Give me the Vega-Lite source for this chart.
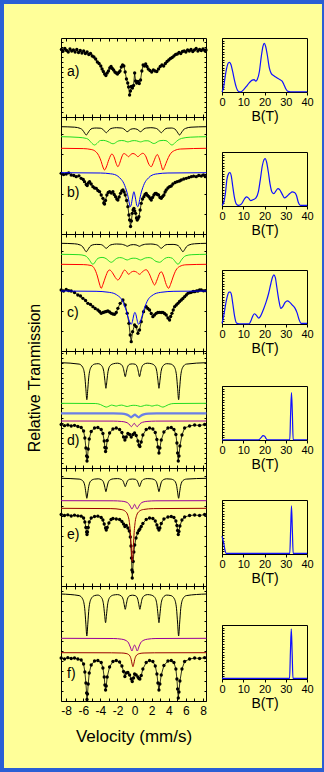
{
"$schema": "https://vega.github.io/schema/vega-lite/v6.json",
"background": "#ffff99",
"padding": 0,
"config": {"font": "Liberation Sans", "view": {"stroke": null}, "axis": {"tickColor": "black", "labelColor": "black", "titleColor": "black", "domain": false, "grid": false, "titleFontWeight": "normal", "labelOverlap": false, "labelFlush": false}},
"datasets": {
"a_pts": [{"v":-8.55,"t":67.5},{"v":-8.35,"t":66},{"v":-8.15,"t":68.5},{"v":-7.95,"t":66.5},{"v":-7.75,"t":65},{"v":-7.55,"t":68},{"v":-7.35,"t":66},{"v":-7.15,"t":67},{"v":-6.95,"t":65},{"v":-6.75,"t":67.5},{"v":-6.55,"t":64.5},{"v":-6.35,"t":66.5},{"v":-6.15,"t":64},{"v":-5.95,"t":66},{"v":-5.75,"t":63.5},{"v":-5.55,"t":65},{"v":-5.35,"t":62.5},{"v":-5.15,"t":63.5},{"v":-4.95,"t":61},{"v":-4.75,"t":60},{"v":-4.55,"t":58},{"v":-4.35,"t":55},{"v":-4.15,"t":53.5},{"v":-3.95,"t":51},{"v":-3.8,"t":48},{"v":-3.65,"t":45.5},{"v":-3.5,"t":43},{"v":-3.35,"t":41.5},{"v":-3.2,"t":44},{"v":-3.05,"t":46},{"v":-2.9,"t":49},{"v":-2.75,"t":50.5},{"v":-2.6,"t":48.5},{"v":-2.45,"t":47},{"v":-2.3,"t":45},{"v":-2.15,"t":44},{"v":-2,"t":43},{"v":-1.85,"t":44.5},{"v":-1.7,"t":46},{"v":-1.55,"t":50},{"v":-1.4,"t":52},{"v":-1.25,"t":51},{"v":-1.1,"t":45},{"v":-0.95,"t":38},{"v":-0.8,"t":34},{"v":-0.7,"t":30},{"v":-0.58,"t":22},{"v":-0.48,"t":26},{"v":-0.38,"t":30.5},{"v":-0.25,"t":29},{"v":-0.12,"t":31.5},{"v":0.01,"t":44},{"v":0.12,"t":36},{"v":0.25,"t":34},{"v":0.4,"t":35.5},{"v":0.55,"t":33.5},{"v":0.7,"t":37},{"v":0.85,"t":46},{"v":1,"t":52},{"v":1.15,"t":51},{"v":1.3,"t":53},{"v":1.45,"t":50.5},{"v":1.6,"t":48},{"v":1.8,"t":46.5},{"v":2,"t":45},{"v":2.2,"t":47},{"v":2.4,"t":46},{"v":2.6,"t":45.5},{"v":2.8,"t":48},{"v":3,"t":50.5},{"v":3.2,"t":52},{"v":3.4,"t":51},{"v":3.6,"t":53.5},{"v":3.8,"t":55.5},{"v":4,"t":57},{"v":4.2,"t":58.5},{"v":4.4,"t":59.5},{"v":4.6,"t":61},{"v":4.8,"t":62.5},{"v":5,"t":63},{"v":5.2,"t":64.5},{"v":5.4,"t":63.5},{"v":5.6,"t":65.5},{"v":5.8,"t":66},{"v":6,"t":65},{"v":6.2,"t":67},{"v":6.4,"t":66},{"v":6.6,"t":67.5},{"v":6.8,"t":65.5},{"v":7,"t":67},{"v":7.2,"t":68.5},{"v":7.4,"t":66},{"v":7.6,"t":67.5},{"v":7.8,"t":66.5},{"v":8,"t":68},{"v":8.2,"t":66.5},{"v":8.35,"t":67}],
"b_pts": [{"v":-8.58,"t":60.7},{"v":-8.3,"t":59.5},{"v":-7.99,"t":60},{"v":-7.7,"t":61.2},{"v":-7.41,"t":59},{"v":-7.1,"t":58.5},{"v":-6.82,"t":57.3},{"v":-6.5,"t":58.2},{"v":-6.24,"t":55.7},{"v":-6,"t":54.5},{"v":-5.85,"t":52.3},{"v":-5.65,"t":49.5},{"v":-5.54,"t":48.5},{"v":-5.4,"t":51},{"v":-5.26,"t":52.3},{"v":-5.07,"t":50},{"v":-4.87,"t":47.3},{"v":-4.68,"t":46},{"v":-4.48,"t":45.7},{"v":-4.29,"t":43.5},{"v":-4.09,"t":42.3},{"v":-3.9,"t":39},{"v":-3.7,"t":35.7},{"v":-3.6,"t":31},{"v":-3.51,"t":30},{"v":-3.4,"t":33.5},{"v":-3.24,"t":39},{"v":-3.08,"t":41.5},{"v":-2.92,"t":42.3},{"v":-2.72,"t":41},{"v":-2.53,"t":42.3},{"v":-2.38,"t":39.5},{"v":-2.22,"t":37.3},{"v":-2.08,"t":35},{"v":-1.95,"t":34},{"v":-1.8,"t":37},{"v":-1.64,"t":40.7},{"v":-1.5,"t":43},{"v":-1.36,"t":44},{"v":-1.22,"t":42},{"v":-1.09,"t":39},{"v":-0.93,"t":33.5},{"v":-0.78,"t":27.3},{"v":-0.66,"t":19},{"v":-0.58,"t":14},{"v":-0.47,"t":7.5},{"v":-0.37,"t":13},{"v":-0.27,"t":20.7},{"v":-0.17,"t":24},{"v":-0.08,"t":25.7},{"v":0.02,"t":23},{"v":0.12,"t":20.7},{"v":0.22,"t":16},{"v":0.31,"t":14},{"v":0.41,"t":15.5},{"v":0.51,"t":17.3},{"v":0.65,"t":24},{"v":0.78,"t":30.7},{"v":0.93,"t":35},{"v":1.09,"t":37.3},{"v":1.22,"t":39.5},{"v":1.36,"t":40.7},{"v":1.52,"t":38.5},{"v":1.68,"t":37.3},{"v":1.82,"t":35.5},{"v":1.95,"t":34},{"v":2.1,"t":36.5},{"v":2.26,"t":39},{"v":2.4,"t":40.5},{"v":2.53,"t":40.7},{"v":2.67,"t":39.5},{"v":2.81,"t":39},{"v":2.97,"t":36.5},{"v":3.12,"t":35.7},{"v":3.28,"t":37.5},{"v":3.43,"t":39},{"v":3.57,"t":42},{"v":3.7,"t":44},{"v":3.9,"t":46},{"v":4.09,"t":47.3},{"v":4.29,"t":48},{"v":4.48,"t":50},{"v":4.75,"t":51.5},{"v":4.99,"t":52.3},{"v":5.25,"t":53},{"v":5.46,"t":54},{"v":5.75,"t":55},{"v":6.04,"t":55.7},{"v":6.35,"t":56.5},{"v":6.63,"t":57.3},{"v":6.9,"t":57.8},{"v":7.21,"t":57.3},{"v":7.5,"t":58.5},{"v":7.8,"t":58},{"v":8.05,"t":59},{"v":8.27,"t":57.3}],
"b_k": [{"v":-8.6,"t":107.3},{"v":-7,"t":106.8},{"v":-6.35,"t":105.6},{"v":-6.05,"t":103.7},{"v":-5.85,"t":101.1},{"v":-5.65,"t":99},{"v":-5.45,"t":101.1},{"v":-5.25,"t":103.7},{"v":-4.95,"t":105.6},{"v":-4.48,"t":106},{"v":-4.01,"t":105.8},{"v":-3.71,"t":104.7},{"v":-3.51,"t":102.8},{"v":-3.31,"t":101.3},{"v":-3.11,"t":102.8},{"v":-2.91,"t":104.7},{"v":-2.61,"t":105.8},{"v":-2.1,"t":106.3},{"v":-1.56,"t":106},{"v":-1.26,"t":105.1},{"v":-1.06,"t":103.6},{"v":-0.86,"t":102.3},{"v":-0.66,"t":103.4},{"v":-0.46,"t":104.7},{"v":-0.08,"t":105.3},{"v":0.3,"t":104.7},{"v":0.5,"t":103.4},{"v":0.7,"t":102.3},{"v":0.9,"t":103.6},{"v":1.1,"t":105.1},{"v":1.4,"t":106},{"v":1.9,"t":106.3},{"v":2.42,"t":105.8},{"v":2.72,"t":104.7},{"v":2.92,"t":102.8},{"v":3.12,"t":101.3},{"v":3.32,"t":102.8},{"v":3.52,"t":104.7},{"v":3.82,"t":105.8},{"v":4.29,"t":106},{"v":4.56,"t":105.6},{"v":4.86,"t":103.7},{"v":5.06,"t":101.1},{"v":5.26,"t":99},{"v":5.46,"t":101.1},{"v":5.66,"t":103.7},{"v":5.96,"t":105.6},{"v":6.6,"t":106.8},{"v":8.4,"t":107.3}],
"b_g": [{"v":-8.6,"t":97.3},{"v":-6.5,"t":96.6},{"v":-5.6,"t":95.5},{"v":-5.3,"t":93.8},{"v":-5.08,"t":91.6},{"v":-4.88,"t":89.9},{"v":-4.68,"t":89},{"v":-4.48,"t":89.9},{"v":-4.28,"t":91.6},{"v":-3.98,"t":93.5},{"v":-3.6,"t":93.6},{"v":-3.23,"t":92.8},{"v":-2.93,"t":91.7},{"v":-2.73,"t":90.7},{"v":-2.53,"t":90.3},{"v":-2.33,"t":90.7},{"v":-2.13,"t":91.9},{"v":-1.83,"t":93.2},{"v":-1.5,"t":93.5},{"v":-1.18,"t":93.2},{"v":-0.98,"t":92.5},{"v":-0.78,"t":92.1},{"v":-0.58,"t":92.5},{"v":-0.3,"t":93.2},{"v":-0.04,"t":93.4},{"v":0.22,"t":93.2},{"v":0.5,"t":92.5},{"v":0.7,"t":92.1},{"v":0.9,"t":92.5},{"v":1.2,"t":93.2},{"v":1.56,"t":93.2},{"v":1.86,"t":92.1},{"v":2.06,"t":91},{"v":2.26,"t":90.5},{"v":2.46,"t":91},{"v":2.66,"t":92.1},{"v":2.96,"t":93.3},{"v":3.35,"t":93.6},{"v":3.67,"t":93.4},{"v":3.97,"t":91.6},{"v":4.17,"t":89.9},{"v":4.37,"t":89},{"v":4.57,"t":89.9},{"v":4.77,"t":91.6},{"v":5.07,"t":93.8},{"v":5.5,"t":95.6},{"v":6.5,"t":96.8},{"v":8.4,"t":97.3}],
"b_r": [{"v":-8.6,"t":85.7},{"v":-6,"t":85.4},{"v":-5.07,"t":84.5},{"v":-4.6,"t":82.8},{"v":-4.2,"t":78.6},{"v":-3.9,"t":72.5},{"v":-3.7,"t":67},{"v":-3.51,"t":64},{"v":-3.3,"t":67},{"v":-3,"t":74.5},{"v":-2.65,"t":80},{"v":-2.35,"t":76},{"v":-2.15,"t":70.5},{"v":-1.95,"t":67.3},{"v":-1.75,"t":70.5},{"v":-1.5,"t":77},{"v":-1.25,"t":80.5},{"v":-0.95,"t":79},{"v":-0.7,"t":77.3},{"v":-0.45,"t":79.5},{"v":-0.19,"t":80.5},{"v":0.1,"t":79.5},{"v":0.39,"t":77.3},{"v":0.65,"t":79.2},{"v":0.97,"t":80.7},{"v":1.35,"t":77},{"v":1.6,"t":71},{"v":1.95,"t":67.3},{"v":2.2,"t":71.5},{"v":2.5,"t":77.8},{"v":2.65,"t":79.5},{"v":2.85,"t":76.5},{"v":3.1,"t":69.5},{"v":3.31,"t":64},{"v":3.52,"t":67.5},{"v":3.8,"t":73.5},{"v":4.1,"t":79},{"v":4.68,"t":83.5},{"v":5.4,"t":85},{"v":8.4,"t":85.7}],
"b_b": [{"v":-8.6,"t":61.3},{"v":-4,"t":61},{"v":-2.8,"t":60.2},{"v":-2.34,"t":59.5},{"v":-1.95,"t":57.8},{"v":-1.75,"t":56.3},{"v":-1.55,"t":54.5},{"v":-1.36,"t":52.3},{"v":-1.15,"t":48.5},{"v":-0.97,"t":44},{"v":-0.82,"t":39.5},{"v":-0.7,"t":34.5},{"v":-0.6,"t":30},{"v":-0.51,"t":27.3},{"v":-0.4,"t":29},{"v":-0.25,"t":36},{"v":-0.08,"t":42.3},{"v":0.1,"t":36},{"v":0.25,"t":29},{"v":0.39,"t":27.3},{"v":0.5,"t":30},{"v":0.6,"t":34.5},{"v":0.72,"t":39.5},{"v":0.87,"t":44},{"v":1.05,"t":48.5},{"v":1.26,"t":52.3},{"v":1.45,"t":54.5},{"v":1.65,"t":56.3},{"v":1.85,"t":57.8},{"v":2.24,"t":59.5},{"v":2.7,"t":60.2},{"v":3.9,"t":61},{"v":8.4,"t":61.3}],
"c_pts": [{"v":-8.58,"t":61},{"v":-8.3,"t":60},{"v":-7.99,"t":61.5},{"v":-7.7,"t":60.3},{"v":-7.41,"t":60},{"v":-7.02,"t":58.5},{"v":-6.63,"t":56},{"v":-6.32,"t":55},{"v":-6.04,"t":52.7},{"v":-5.73,"t":50.5},{"v":-5.46,"t":47.7},{"v":-5.15,"t":46.5},{"v":-4.87,"t":44.3},{"v":-4.6,"t":42.5},{"v":-4.29,"t":41},{"v":-4.09,"t":39.5},{"v":-3.9,"t":37.7},{"v":-3.7,"t":38.5},{"v":-3.51,"t":39},{"v":-3.31,"t":39.5},{"v":-3.12,"t":40},{"v":-2.92,"t":39},{"v":-2.73,"t":37.7},{"v":-2.53,"t":37},{"v":-2.34,"t":36.7},{"v":-2.14,"t":38.5},{"v":-1.95,"t":42.7},{"v":-1.68,"t":47.7},{"v":-1.36,"t":51},{"v":-1.09,"t":46},{"v":-0.86,"t":37.7},{"v":-0.66,"t":27.7},{"v":-0.51,"t":16},{"v":-0.39,"t":9.3},{"v":-0.23,"t":19.3},{"v":0,"t":26},{"v":0.19,"t":24.3},{"v":0.39,"t":17.7},{"v":0.58,"t":21},{"v":0.78,"t":29.3},{"v":1.05,"t":39.3},{"v":1.36,"t":44.3},{"v":1.55,"t":42.5},{"v":1.75,"t":41},{"v":1.95,"t":37.5},{"v":2.14,"t":34.3},{"v":2.33,"t":36},{"v":2.53,"t":37.7},{"v":2.72,"t":38.5},{"v":2.92,"t":38.7},{"v":3.12,"t":38.5},{"v":3.31,"t":38.7},{"v":3.5,"t":37.5},{"v":3.7,"t":36},{"v":3.9,"t":33},{"v":4.09,"t":31},{"v":4.22,"t":34.5},{"v":4.37,"t":37.7},{"v":4.52,"t":41},{"v":4.68,"t":44.3},{"v":4.88,"t":46},{"v":5.07,"t":47.7},{"v":5.26,"t":49.5},{"v":5.46,"t":51},{"v":5.65,"t":52.5},{"v":5.85,"t":54.3},{"v":6.05,"t":56},{"v":6.24,"t":57.7},{"v":6.45,"t":58.3},{"v":6.63,"t":58.7},{"v":6.85,"t":59.5},{"v":7.02,"t":59.3},{"v":7.25,"t":60.2},{"v":7.41,"t":60},{"v":7.6,"t":61},{"v":7.8,"t":61},{"v":8.05,"t":60.2},{"v":8.27,"t":60.3}],
"c_k": [{"v":-8.6,"t":107.7},{"v":-7,"t":107.2},{"v":-6.35,"t":106},{"v":-6.05,"t":104.1},{"v":-5.85,"t":101.4},{"v":-5.65,"t":99.3},{"v":-5.45,"t":101.4},{"v":-5.25,"t":104.1},{"v":-4.95,"t":106},{"v":-4.48,"t":106.6},{"v":-4.01,"t":106.5},{"v":-3.71,"t":105.6},{"v":-3.51,"t":104},{"v":-3.31,"t":102.7},{"v":-3.11,"t":104},{"v":-2.91,"t":105.6},{"v":-2.61,"t":106.5},{"v":-2.1,"t":107},{"v":-1.56,"t":106.8},{"v":-1.26,"t":106.2},{"v":-1.06,"t":105.6},{"v":-0.86,"t":104.7},{"v":-0.66,"t":105.4},{"v":-0.46,"t":106.1},{"v":-0.14,"t":106.4},{"v":0.18,"t":106.1},{"v":0.38,"t":105.4},{"v":0.58,"t":104.7},{"v":0.78,"t":105.6},{"v":0.98,"t":106.2},{"v":1.3,"t":106.8},{"v":1.9,"t":107},{"v":2.42,"t":106.5},{"v":2.72,"t":105.6},{"v":2.92,"t":104},{"v":3.12,"t":102.7},{"v":3.32,"t":104},{"v":3.52,"t":105.6},{"v":3.82,"t":106.5},{"v":4.5,"t":106.6},{"v":4.95,"t":106},{"v":5.25,"t":104.1},{"v":5.45,"t":101.4},{"v":5.65,"t":99.3},{"v":5.85,"t":101.4},{"v":6.05,"t":104.1},{"v":6.35,"t":106},{"v":7,"t":107.2},{"v":8.4,"t":107.7}],
"c_g": [{"v":-8.6,"t":96.7},{"v":-6.5,"t":96.3},{"v":-5.8,"t":95.3},{"v":-5.47,"t":93.2},{"v":-5.22,"t":90.3},{"v":-5.05,"t":88},{"v":-4.87,"t":86.7},{"v":-4.69,"t":88},{"v":-4.52,"t":90.3},{"v":-4.27,"t":92.7},{"v":-3.8,"t":93.6},{"v":-3.33,"t":92.4},{"v":-3.08,"t":90.6},{"v":-2.9,"t":89.3},{"v":-2.73,"t":88.7},{"v":-2.56,"t":89.3},{"v":-2.38,"t":90.6},{"v":-2.13,"t":92.4},{"v":-1.75,"t":93.4},{"v":-1.4,"t":93},{"v":-1.16,"t":92},{"v":-0.86,"t":91},{"v":-0.56,"t":92},{"v":-0.3,"t":92.7},{"v":-0.08,"t":92.8},{"v":0.14,"t":92.7},{"v":0.4,"t":92},{"v":0.7,"t":91},{"v":1,"t":92},{"v":1.25,"t":93},{"v":1.7,"t":93.4},{"v":2.07,"t":92.4},{"v":2.32,"t":90.6},{"v":2.5,"t":89.6},{"v":2.75,"t":89},{"v":2.92,"t":88.7},{"v":3.09,"t":89.3},{"v":3.27,"t":90.6},{"v":3.52,"t":92.4},{"v":3.95,"t":93.6},{"v":4.42,"t":92.7},{"v":4.67,"t":90.3},{"v":4.89,"t":88},{"v":5.07,"t":86.7},{"v":5.25,"t":88},{"v":5.42,"t":90.3},{"v":5.67,"t":93.2},{"v":6,"t":95.3},{"v":6.7,"t":96.3},{"v":8.4,"t":96.7}],
"c_r": [{"v":-8.6,"t":86.7},{"v":-6,"t":86.4},{"v":-5.07,"t":85.5},{"v":-4.7,"t":82.5},{"v":-4.35,"t":75},{"v":-4.1,"t":67},{"v":-3.9,"t":62.7},{"v":-3.7,"t":66.5},{"v":-3.4,"t":74},{"v":-3.1,"t":80},{"v":-2.92,"t":81},{"v":-2.6,"t":78.5},{"v":-2.25,"t":73.5},{"v":-1.95,"t":71},{"v":-1.65,"t":74},{"v":-1.35,"t":79},{"v":-1.17,"t":81},{"v":-0.95,"t":79.5},{"v":-0.7,"t":76.7},{"v":-0.4,"t":78.8},{"v":-0.08,"t":79.8},{"v":0.25,"t":78.8},{"v":0.58,"t":76.7},{"v":0.95,"t":79.5},{"v":1.36,"t":81.3},{"v":1.7,"t":77.5},{"v":2.05,"t":70.5},{"v":2.34,"t":66},{"v":2.62,"t":71},{"v":2.95,"t":78},{"v":3.12,"t":79.3},{"v":3.35,"t":76},{"v":3.7,"t":66.5},{"v":3.98,"t":62.7},{"v":4.2,"t":66.5},{"v":4.5,"t":74},{"v":4.85,"t":81},{"v":5.26,"t":84.5},{"v":6,"t":86.2},{"v":8.4,"t":86.7}],
"c_b": [{"v":-8.6,"t":60},{"v":-4.5,"t":59.7},{"v":-3.1,"t":58.8},{"v":-2.3,"t":57.2},{"v":-1.95,"t":55.3},{"v":-1.6,"t":52.7},{"v":-1.37,"t":49.3},{"v":-1.17,"t":45},{"v":-0.97,"t":40.3},{"v":-0.8,"t":35},{"v":-0.66,"t":31},{"v":-0.52,"t":27.8},{"v":-0.39,"t":26.7},{"v":-0.25,"t":29.5},{"v":-0.12,"t":35},{"v":0.04,"t":38.7},{"v":0.2,"t":35},{"v":0.33,"t":29.5},{"v":0.47,"t":26.7},{"v":0.6,"t":27.8},{"v":0.74,"t":31},{"v":0.88,"t":35},{"v":1.05,"t":40.3},{"v":1.25,"t":45},{"v":1.45,"t":49.3},{"v":1.68,"t":52.7},{"v":2.03,"t":55.3},{"v":2.38,"t":57.2},{"v":3.2,"t":58.8},{"v":4.6,"t":59.7},{"v":8.4,"t":60}],
"d_pts": [{"v":-8.58,"t":43.5},{"v":-8.19,"t":42.3},{"v":-7.8,"t":43},{"v":-7.41,"t":42},{"v":-7.02,"t":42.7},{"v":-6.63,"t":41.5},{"v":-6.24,"t":40.5},{"v":-5.96,"t":37},{"v":-5.81,"t":30},{"v":-5.69,"t":20},{"v":-5.61,"t":12},{"v":-5.56,"t":7},{"v":-5.5,"t":11},{"v":-5.42,"t":19},{"v":-5.3,"t":29},{"v":-5.07,"t":36.5},{"v":-4.68,"t":40},{"v":-4.29,"t":40.5},{"v":-3.9,"t":38.5},{"v":-3.7,"t":34.5},{"v":-3.55,"t":27},{"v":-3.47,"t":20.5},{"v":-3.39,"t":16.5},{"v":-3.31,"t":20},{"v":-3.2,"t":27.5},{"v":-2.92,"t":35},{"v":-2.53,"t":39},{"v":-2.14,"t":40},{"v":-1.75,"t":38.5},{"v":-1.48,"t":35.5},{"v":-1.29,"t":31},{"v":-1.13,"t":28},{"v":-0.97,"t":31},{"v":-0.78,"t":34.5},{"v":-0.58,"t":33.5},{"v":-0.39,"t":31},{"v":-0.19,"t":33.5},{"v":0,"t":35},{"v":0.19,"t":32.5},{"v":0.39,"t":27},{"v":0.51,"t":23},{"v":0.62,"t":21.5},{"v":0.78,"t":26},{"v":0.97,"t":33},{"v":1.36,"t":38.5},{"v":1.75,"t":40},{"v":2.14,"t":39},{"v":2.42,"t":35.5},{"v":2.61,"t":28.5},{"v":2.73,"t":21},{"v":2.85,"t":15},{"v":2.96,"t":20},{"v":3.12,"t":28},{"v":3.43,"t":36},{"v":3.9,"t":40},{"v":4.29,"t":40.5},{"v":4.6,"t":38.5},{"v":4.83,"t":33.5},{"v":4.95,"t":25},{"v":5.03,"t":15},{"v":5.11,"t":7},{"v":5.19,"t":12},{"v":5.3,"t":22},{"v":5.54,"t":33},{"v":5.85,"t":40},{"v":6.43,"t":42},{"v":7.02,"t":43},{"v":7.6,"t":42.5},{"v":8.19,"t":43.5}],
"d_k": [{"v":-8.6,"t":105.3},{"v":-6.48,"t":103.9},{"v":-6.08,"t":101},{"v":-5.83,"t":92.7},{"v":-5.7,"t":79.8},{"v":-5.58,"t":68.3},{"v":-5.46,"t":79.8},{"v":-5.33,"t":92.7},{"v":-5.08,"t":101},{"v":-4.68,"t":103.9},{"v":-4.25,"t":104.3},{"v":-3.85,"t":102.4},{"v":-3.6,"t":96.6},{"v":-3.47,"t":87.6},{"v":-3.35,"t":79.7},{"v":-3.23,"t":87.6},{"v":-3.1,"t":96.6},{"v":-2.85,"t":102.4},{"v":-2.45,"t":104.3},{"v":-1.99,"t":104.8},{"v":-1.59,"t":103.7},{"v":-1.34,"t":100.5},{"v":-1.21,"t":95.6},{"v":-1.09,"t":91.3},{"v":-0.97,"t":95.6},{"v":-0.84,"t":100.5},{"v":-0.59,"t":103.7},{"v":-0.25,"t":104.1},{"v":0.08,"t":103.7},{"v":0.33,"t":100.5},{"v":0.46,"t":95.6},{"v":0.58,"t":91.3},{"v":0.7,"t":95.6},{"v":0.83,"t":100.5},{"v":1.08,"t":103.7},{"v":1.48,"t":104.8},{"v":1.95,"t":104.3},{"v":2.35,"t":102.4},{"v":2.6,"t":96.6},{"v":2.73,"t":87.6},{"v":2.85,"t":79.7},{"v":2.97,"t":87.6},{"v":3.1,"t":96.6},{"v":3.35,"t":102.4},{"v":3.75,"t":104.3},{"v":4.25,"t":103.9},{"v":4.65,"t":101},{"v":4.9,"t":92.7},{"v":5.03,"t":79.8},{"v":5.15,"t":68.3},{"v":5.27,"t":79.8},{"v":5.4,"t":92.7},{"v":5.65,"t":101},{"v":6.05,"t":103.9},{"v":8.4,"t":105.3}],
"d_g": [{"v":-8.6,"t":64.7},{"v":-4.6,"t":64.5},{"v":-4,"t":63.5},{"v":-3.6,"t":61.8},{"v":-3.31,"t":60.9},{"v":-3,"t":61.8},{"v":-2.7,"t":62.9},{"v":-2.4,"t":62.4},{"v":-2.14,"t":61.9},{"v":-1.85,"t":62.6},{"v":-1.5,"t":62.9},{"v":-1.15,"t":62.1},{"v":-0.86,"t":61.5},{"v":-0.5,"t":62.3},{"v":-0.08,"t":62.7},{"v":0.35,"t":62.3},{"v":0.7,"t":61.5},{"v":1,"t":62.1},{"v":1.35,"t":62.9},{"v":1.75,"t":62.6},{"v":2.03,"t":61.9},{"v":2.3,"t":62.4},{"v":2.65,"t":62.9},{"v":3,"t":61.8},{"v":3.31,"t":60.9},{"v":3.6,"t":61.8},{"v":4,"t":63.5},{"v":4.6,"t":64.5},{"v":8.4,"t":64.7}],
"d_b": [{"v":-8.6,"t":54.7},{"v":-2.5,"t":54.6},{"v":-1.5,"t":54.3},{"v":-1,"t":53.6},{"v":-0.7,"t":52.5},{"v":-0.52,"t":51.4},{"v":-0.39,"t":50.7},{"v":-0.2,"t":52},{"v":0.04,"t":53.3},{"v":0.25,"t":52},{"v":0.47,"t":50.7},{"v":0.6,"t":51.4},{"v":0.78,"t":52.5},{"v":1.08,"t":53.6},{"v":1.6,"t":54.3},{"v":2.6,"t":54.6},{"v":8.4,"t":54.7}],
"d_m": [{"v":-8.6,"t":47},{"v":-2.5,"t":46.9},{"v":-1.5,"t":46.5},{"v":-1,"t":45.7},{"v":-0.7,"t":44.3},{"v":-0.52,"t":42.6},{"v":-0.39,"t":41.3},{"v":-0.2,"t":43},{"v":-0.04,"t":44.7},{"v":0.12,"t":43},{"v":0.31,"t":41.3},{"v":0.45,"t":42.6},{"v":0.63,"t":44.3},{"v":0.93,"t":45.7},{"v":1.45,"t":46.5},{"v":2.45,"t":46.9},{"v":8.4,"t":47}],
"e_pts": [{"v":-8.58,"t":71.5},{"v":-8.19,"t":70.5},{"v":-7.8,"t":71.2},{"v":-7.41,"t":70},{"v":-7.02,"t":70.8},{"v":-6.63,"t":70.2},{"v":-6.24,"t":69.8},{"v":-5.96,"t":68},{"v":-5.81,"t":64},{"v":-5.69,"t":58.5},{"v":-5.61,"t":54},{"v":-5.56,"t":51.5},{"v":-5.5,"t":54},{"v":-5.42,"t":58.5},{"v":-5.3,"t":64},{"v":-5.07,"t":68},{"v":-4.68,"t":69.5},{"v":-4.29,"t":69.8},{"v":-3.9,"t":68.5},{"v":-3.7,"t":66},{"v":-3.55,"t":62},{"v":-3.39,"t":58},{"v":-3.31,"t":56},{"v":-3.2,"t":58.5},{"v":-3,"t":63},{"v":-2.75,"t":66.5},{"v":-2.53,"t":67.5},{"v":-2.14,"t":67},{"v":-1.75,"t":66.5},{"v":-1.48,"t":64.5},{"v":-1.29,"t":62},{"v":-1.13,"t":59.5},{"v":-0.97,"t":60.5},{"v":-0.78,"t":58},{"v":-0.62,"t":55},{"v":-0.5,"t":49},{"v":-0.42,"t":40},{"v":-0.36,"t":28},{"v":-0.31,"t":16},{"v":-0.27,"t":8},{"v":-0.22,"t":14},{"v":-0.16,"t":24.5},{"v":-0.08,"t":34},{"v":0.02,"t":41},{"v":0.17,"t":48},{"v":0.35,"t":53},{"v":0.5,"t":55.5},{"v":0.62,"t":57},{"v":0.78,"t":59.5},{"v":0.97,"t":62.5},{"v":1.36,"t":66.5},{"v":1.75,"t":68},{"v":2.14,"t":67.5},{"v":2.42,"t":65},{"v":2.61,"t":61},{"v":2.73,"t":58},{"v":2.85,"t":56},{"v":2.96,"t":58},{"v":3.12,"t":62.5},{"v":3.43,"t":67},{"v":3.9,"t":69},{"v":4.29,"t":69.5},{"v":4.6,"t":68.5},{"v":4.83,"t":65},{"v":4.95,"t":60.5},{"v":5.03,"t":55.5},{"v":5.11,"t":51.5},{"v":5.19,"t":54.5},{"v":5.3,"t":60},{"v":5.54,"t":66},{"v":5.85,"t":69},{"v":6.43,"t":70.5},{"v":7.02,"t":71},{"v":7.6,"t":70.5},{"v":8.19,"t":71.5}],
"e_k": [{"v":-8.6,"t":107.7},{"v":-6.48,"t":106.9},{"v":-6.08,"t":105.4},{"v":-5.83,"t":100.9},{"v":-5.7,"t":93.9},{"v":-5.58,"t":87.7},{"v":-5.46,"t":93.9},{"v":-5.33,"t":100.9},{"v":-5.08,"t":105.4},{"v":-4.68,"t":106.9},{"v":-4.25,"t":107.2},{"v":-3.85,"t":106.2},{"v":-3.6,"t":103.1},{"v":-3.47,"t":98.5},{"v":-3.35,"t":94.3},{"v":-3.23,"t":98.5},{"v":-3.1,"t":103.1},{"v":-2.85,"t":106.2},{"v":-2.45,"t":107.2},{"v":-1.99,"t":107.4},{"v":-1.59,"t":106.7},{"v":-1.34,"t":104.8},{"v":-1.21,"t":101.9},{"v":-1.09,"t":99.3},{"v":-0.97,"t":101.9},{"v":-0.84,"t":104.8},{"v":-0.59,"t":106.7},{"v":-0.25,"t":107},{"v":0.08,"t":106.7},{"v":0.33,"t":104.8},{"v":0.46,"t":101.9},{"v":0.58,"t":99.3},{"v":0.7,"t":101.9},{"v":0.83,"t":104.8},{"v":1.08,"t":106.7},{"v":1.48,"t":107.4},{"v":1.95,"t":107.2},{"v":2.35,"t":106.2},{"v":2.6,"t":103.1},{"v":2.73,"t":98.5},{"v":2.85,"t":94.3},{"v":2.97,"t":98.5},{"v":3.1,"t":103.1},{"v":3.35,"t":106.2},{"v":3.75,"t":107.2},{"v":4.25,"t":106.9},{"v":4.65,"t":105.4},{"v":4.9,"t":100.9},{"v":5.03,"t":93.9},{"v":5.15,"t":87.7},{"v":5.27,"t":93.9},{"v":5.4,"t":100.9},{"v":5.65,"t":105.4},{"v":6.05,"t":106.9},{"v":8.4,"t":107.7}],
"e_m": [{"v":-8.6,"t":85.3},{"v":-2.5,"t":85.2},{"v":-1.5,"t":84.8},{"v":-1,"t":84},{"v":-0.7,"t":82.4},{"v":-0.5,"t":79.8},{"v":-0.31,"t":77},{"v":-0.15,"t":79.2},{"v":0,"t":81.7},{"v":0.15,"t":79.2},{"v":0.31,"t":77},{"v":0.5,"t":79.8},{"v":0.7,"t":82.4},{"v":1,"t":84},{"v":1.5,"t":84.8},{"v":2.5,"t":85.2},{"v":8.4,"t":85.3}],
"e_r": [{"v":-8.6,"t":77.7},{"v":-2.77,"t":77.4},{"v":-1.57,"t":76.5},{"v":-1.07,"t":74.6},{"v":-0.77,"t":70.3},{"v":-0.62,"t":64.6},{"v":-0.47,"t":51},{"v":-0.37,"t":35.1},{"v":-0.27,"t":24.4},{"v":-0.17,"t":35.1},{"v":-0.07,"t":51},{"v":0.08,"t":64.6},{"v":0.23,"t":70.3},{"v":0.53,"t":74.6},{"v":1.03,"t":76.5},{"v":2.23,"t":77.4},{"v":8.4,"t":77.7}],
"f_pts": [{"v":-8.58,"t":43},{"v":-8.19,"t":42},{"v":-7.8,"t":43.3},{"v":-7.41,"t":42.5},{"v":-7.02,"t":43},{"v":-6.63,"t":42},{"v":-6.24,"t":41},{"v":-5.96,"t":37},{"v":-5.81,"t":29},{"v":-5.69,"t":18},{"v":-5.61,"t":8},{"v":-5.56,"t":1.5},{"v":-5.5,"t":7},{"v":-5.42,"t":17},{"v":-5.3,"t":28},{"v":-5.07,"t":36},{"v":-4.68,"t":40},{"v":-4.29,"t":40.5},{"v":-3.9,"t":38.5},{"v":-3.7,"t":33},{"v":-3.55,"t":24},{"v":-3.47,"t":16},{"v":-3.39,"t":11},{"v":-3.31,"t":15},{"v":-3.2,"t":24},{"v":-2.92,"t":34},{"v":-2.53,"t":39.5},{"v":-2.14,"t":40.5},{"v":-1.75,"t":39},{"v":-1.48,"t":35},{"v":-1.29,"t":29.5},{"v":-1.13,"t":24.5},{"v":-0.97,"t":28},{"v":-0.78,"t":28.5},{"v":-0.58,"t":26},{"v":-0.39,"t":22},{"v":-0.27,"t":19.5},{"v":-0.12,"t":23},{"v":0,"t":27},{"v":0.19,"t":26},{"v":0.39,"t":24},{"v":0.51,"t":22.5},{"v":0.62,"t":22},{"v":0.78,"t":25.5},{"v":0.97,"t":32},{"v":1.36,"t":38.5},{"v":1.75,"t":40.5},{"v":2.14,"t":39.5},{"v":2.42,"t":35},{"v":2.61,"t":27},{"v":2.73,"t":18},{"v":2.85,"t":11},{"v":2.96,"t":17},{"v":3.12,"t":26},{"v":3.43,"t":35.5},{"v":3.9,"t":40},{"v":4.29,"t":40.5},{"v":4.6,"t":38.5},{"v":4.83,"t":32},{"v":4.95,"t":22},{"v":5.03,"t":12},{"v":5.11,"t":3},{"v":5.19,"t":9},{"v":5.3,"t":20},{"v":5.54,"t":32},{"v":5.85,"t":39.5},{"v":6.43,"t":42},{"v":7.02,"t":43},{"v":7.6,"t":42.5},{"v":8.19,"t":43.3}],
"f_k": [{"v":-8.6,"t":107},{"v":-6.48,"t":105.4},{"v":-6.08,"t":102.2},{"v":-5.83,"t":92.7},{"v":-5.7,"t":78},{"v":-5.58,"t":65},{"v":-5.46,"t":78},{"v":-5.33,"t":92.7},{"v":-5.08,"t":102.2},{"v":-4.68,"t":105.4},{"v":-4.29,"t":105.9},{"v":-3.89,"t":103.7},{"v":-3.64,"t":97.2},{"v":-3.51,"t":87.2},{"v":-3.39,"t":78.3},{"v":-3.27,"t":87.2},{"v":-3.14,"t":97.2},{"v":-2.89,"t":103.7},{"v":-2.49,"t":105.9},{"v":-1.99,"t":106.4},{"v":-1.59,"t":105.2},{"v":-1.34,"t":101.8},{"v":-1.21,"t":96.4},{"v":-1.09,"t":91.7},{"v":-0.97,"t":96.4},{"v":-0.84,"t":101.8},{"v":-0.59,"t":105.2},{"v":-0.24,"t":105.8},{"v":0.12,"t":105.2},{"v":0.37,"t":101.8},{"v":0.5,"t":96.4},{"v":0.62,"t":91.7},{"v":0.74,"t":96.4},{"v":0.87,"t":101.8},{"v":1.12,"t":105.2},{"v":1.52,"t":106.4},{"v":1.95,"t":105.9},{"v":2.35,"t":103.7},{"v":2.6,"t":97.2},{"v":2.73,"t":87.2},{"v":2.85,"t":78.3},{"v":2.97,"t":87.2},{"v":3.1,"t":97.2},{"v":3.35,"t":103.7},{"v":3.75,"t":105.9},{"v":4.25,"t":105.4},{"v":4.65,"t":102.2},{"v":4.9,"t":92.7},{"v":5.03,"t":78},{"v":5.15,"t":65},{"v":5.27,"t":78},{"v":5.4,"t":92.7},{"v":5.65,"t":102.2},{"v":6.05,"t":105.4},{"v":8.4,"t":107}],
"f_m": [{"v":-8.6,"t":62.7},{"v":-2.5,"t":62.5},{"v":-1.5,"t":61.8},{"v":-1,"t":60.5},{"v":-0.7,"t":58},{"v":-0.5,"t":54},{"v":-0.31,"t":50},{"v":-0.15,"t":53.5},{"v":0,"t":56},{"v":0.15,"t":53.5},{"v":0.31,"t":50},{"v":0.5,"t":54},{"v":0.7,"t":58},{"v":1,"t":60.5},{"v":1.5,"t":61.8},{"v":2.5,"t":62.5},{"v":8.4,"t":62.7}],
"f_r": [{"v":-8.6,"t":48.3},{"v":-2.69,"t":48.2},{"v":-1.49,"t":48},{"v":-0.99,"t":47.5},{"v":-0.69,"t":46.4},{"v":-0.54,"t":45},{"v":-0.39,"t":41.3},{"v":-0.29,"t":37.1},{"v":-0.19,"t":34.3},{"v":-0.09,"t":37.1},{"v":0.01,"t":41.3},{"v":0.16,"t":45},{"v":0.31,"t":46.4},{"v":0.61,"t":47.5},{"v":1.11,"t":48},{"v":2.31,"t":48.2},{"v":8.4,"t":48.3}],
"ra": [{"B":0,"y":0},{"B":0.8,"y":0.1},{"B":1.4,"y":0.26},{"B":2.2,"y":0.44},{"B":3,"y":0.54},{"B":3.6,"y":0.55},{"B":4.2,"y":0.51},{"B":5,"y":0.38},{"B":5.8,"y":0.23},{"B":6.7,"y":0.09},{"B":7.8,"y":0.01},{"B":8.9,"y":0.005},{"B":10.1,"y":0.04},{"B":11.4,"y":0.1},{"B":12.8,"y":0.17},{"B":14.2,"y":0.22},{"B":15.1,"y":0.23},{"B":15.9,"y":0.2},{"B":16.6,"y":0.23},{"B":17.6,"y":0.38},{"B":18.5,"y":0.66},{"B":19.3,"y":0.85},{"B":19.9,"y":0.9},{"B":20.5,"y":0.85},{"B":21.3,"y":0.69},{"B":22.3,"y":0.44},{"B":23.2,"y":0.34},{"B":24.4,"y":0.3},{"B":26,"y":0.26},{"B":27.2,"y":0.23},{"B":28.3,"y":0.2},{"B":29.1,"y":0.14},{"B":30,"y":0.06},{"B":31,"y":0.01},{"B":32.2,"y":0.005},{"B":40,"y":0.005}],
"rb": [{"B":0,"y":0.01},{"B":0.8,"y":0.07},{"B":1.6,"y":0.23},{"B":2.3,"y":0.49},{"B":3.1,"y":0.6},{"B":3.7,"y":0.62},{"B":4.4,"y":0.55},{"B":5,"y":0.38},{"B":5.8,"y":0.17},{"B":6.7,"y":0.04},{"B":7.8,"y":0.01},{"B":9.2,"y":0.04},{"B":10.4,"y":0.12},{"B":11.5,"y":0.17},{"B":12.4,"y":0.15},{"B":13.5,"y":0.1},{"B":14.8,"y":0.12},{"B":16,"y":0.15},{"B":17.1,"y":0.26},{"B":18,"y":0.48},{"B":19,"y":0.75},{"B":19.8,"y":0.86},{"B":20.4,"y":0.88},{"B":21,"y":0.81},{"B":21.8,"y":0.63},{"B":22.6,"y":0.41},{"B":23.5,"y":0.26},{"B":24.4,"y":0.23},{"B":25.4,"y":0.28},{"B":26.3,"y":0.32},{"B":27.2,"y":0.3},{"B":28.3,"y":0.22},{"B":29.4,"y":0.15},{"B":30.6,"y":0.18},{"B":31.9,"y":0.23},{"B":33.1,"y":0.26},{"B":34.1,"y":0.25},{"B":35,"y":0.2},{"B":35.9,"y":0.07},{"B":36.9,"y":0.01},{"B":40,"y":0.01}],
"rc": [{"B":0,"y":0.01},{"B":0.8,"y":0.15},{"B":1.6,"y":0.34},{"B":2.5,"y":0.51},{"B":3.3,"y":0.59},{"B":3.9,"y":0.59},{"B":4.5,"y":0.53},{"B":5.1,"y":0.37},{"B":5.9,"y":0.15},{"B":6.8,"y":0.02},{"B":8.1,"y":0.005},{"B":12.8,"y":0.005},{"B":13.5,"y":0.05},{"B":14.3,"y":0.13},{"B":15.2,"y":0.19},{"B":16.2,"y":0.16},{"B":17.3,"y":0.11},{"B":18.2,"y":0.15},{"B":19.5,"y":0.27},{"B":20.7,"y":0.4},{"B":21.9,"y":0.56},{"B":23,"y":0.75},{"B":23.8,"y":0.87},{"B":24.4,"y":0.91},{"B":25.1,"y":0.86},{"B":25.8,"y":0.68},{"B":26.8,"y":0.43},{"B":27.7,"y":0.29},{"B":28.6,"y":0.32},{"B":29.7,"y":0.4},{"B":30.8,"y":0.43},{"B":31.9,"y":0.4},{"B":33.1,"y":0.35},{"B":34.4,"y":0.29},{"B":35.3,"y":0.21},{"B":36.3,"y":0.08},{"B":37.2,"y":0.01},{"B":40,"y":0.01}],
"rd": [{"B":0,"y":0.005},{"B":17.2,"y":0.005},{"B":17.9,"y":0.02},{"B":18.5,"y":0.05},{"B":19.3,"y":0.08},{"B":20.1,"y":0.07},{"B":20.7,"y":0.03},{"B":21.3,"y":0.005},{"B":31.9,"y":0.005},{"B":32.3,"y":0.5},{"B":32.7,"y":0.88},{"B":33.1,"y":0.5},{"B":33.5,"y":0.005},{"B":40,"y":0.005}],
"re": [{"B":0,"y":0.33},{"B":0.8,"y":0.2},{"B":1.6,"y":0.04},{"B":2,"y":0.01},{"B":31.9,"y":0.01},{"B":32.3,"y":0.45},{"B":32.7,"y":0.89},{"B":33.1,"y":0.45},{"B":33.5,"y":0.01},{"B":40,"y":0.01}],
"rf": [{"B":0,"y":0.01},{"B":31.8,"y":0.01},{"B":32.2,"y":0.5},{"B":32.6,"y":0.93},{"B":33,"y":0.5},{"B":33.4,"y":0.01},{"B":40,"y":0.01}]
},
"spacing": 0,
"vconcat": [
{"width": 324, "height": 4, "data": {"values": []}, "mark": "point", "view": {"fill": "#2a5fd5", "stroke": null}},
{"spacing": 0, "hconcat": [
 {"width": 4, "height": 764, "data": {"values": []}, "mark": "point", "view": {"fill": "#2a5fd5", "stroke": null}},
 {"width": 44, "height": 764, "data": {"values": [{"label": "Relative Tranmission"}]}, "mark": {"type": "text", "angle": 270, "fontSize": 16, "color": "black", "align": "center", "baseline": "middle", "dx": 8, "dy": 9}, "encoding": {"text": {"field": "label", "type": "nominal"}}},
 {"spacing": 0, "bounds": "flush", "vconcat": [
  {"width": 145, "height": 34, "data": {"values": []}, "mark": "point"},
  {"width": 145, "height": 79, "view": {"stroke": "black"}, "resolve": {"axis": {"x": "independent", "y": "independent"}},
   "layer": [
    {"encoding": {"x": {"field": "v", "type": "quantitative", "scale": {"domain": [-8.6, 8.35], "nice": false, "zero": false}, "axis": {"values": [-8,-7,-6,-5,-4,-3,-2,-1,0,1,2,3,4,5,6,7,8], "tickSize": -3, "labels": false, "title": null}},
       "y": {"field": "t", "type": "quantitative", "scale": {"domain": [0, 79], "nice": false, "zero": false}, "axis": {"tickCount": 20, "tickSize": -2, "labels": false, "title": null, "minExtent": 12, "maxExtent": 12}}},
     "layer": [
      {"data": {"name": "a_pts"}, "mark": {"type": "line", "color": "black", "strokeWidth": 0.8, "point": {"filled": true, "size": 11, "color": "black"}}},
      {"data": {"values": [{"v": -7.9, "t": 45, "label": "a)"}]}, "mark": {"type": "text", "align": "left", "baseline": "middle", "fontSize": 14, "color": "black"}, "encoding": {"text": {"field": "label", "type": "nominal"}}}
     ]},
    {"data": {"values": [{"v": 0, "t": 0}]}, "mark": {"type": "point", "opacity": 0},
     "encoding": {"x": {"field": "v", "type": "quantitative", "scale": {"domain": [-8.6, 8.35], "nice": false, "zero": false}, "axis": {"orient": "top", "values": [-8,-7,-6,-5,-4,-3,-2,-1,0,1,2,3,4,5,6,7,8], "tickSize": -3, "labels": false, "title": null}},
       "y": {"field": "t", "type": "quantitative", "scale": {"domain": [0, 79], "nice": false, "zero": false}, "axis": {"orient": "right", "tickCount": 20, "tickSize": -2, "labels": false, "title": null, "minExtent": 4, "maxExtent": 4}}}}
   ]},
  {"width": 145, "height": 117, "view": {"stroke": "black"}, "resolve": {"axis": {"x": "independent", "y": "independent"}},
   "layer": [
    {"encoding": {"x": {"field": "v", "type": "quantitative", "scale": {"domain": [-8.6, 8.35], "nice": false, "zero": false}, "axis": {"values": [-8,-7,-6,-5,-4,-3,-2,-1,0,1,2,3,4,5,6,7,8], "tickSize": -3, "labels": false, "title": null}},
       "y": {"field": "t", "type": "quantitative", "scale": {"domain": [0, 117], "nice": false, "zero": false}, "axis": {"tickCount": 5, "tickSize": -2, "labels": false, "title": null, "minExtent": 12, "maxExtent": 12}}},
     "layer": [
      {"data": {"name": "b_pts"}, "mark": {"type": "line", "color": "black", "strokeWidth": 0.8, "point": {"filled": true, "size": 11, "color": "black"}}},
      {"data": {"name": "b_k"}, "mark": {"type": "line", "color": "black", "strokeWidth": 1, "interpolate": "monotone"}},
      {"data": {"name": "b_g"}, "mark": {"type": "line", "color": "#22dd22", "strokeWidth": 1, "interpolate": "monotone"}},
      {"data": {"name": "b_r"}, "mark": {"type": "line", "color": "#ff0000", "strokeWidth": 1, "interpolate": "monotone"}},
      {"data": {"name": "b_b"}, "mark": {"type": "line", "color": "#0000ff", "strokeWidth": 1, "interpolate": "monotone"}},
      {"data": {"values": [{"v": -7.9, "t": 41.5, "label": "b)"}]}, "mark": {"type": "text", "align": "left", "baseline": "middle", "fontSize": 14, "color": "black"}, "encoding": {"text": {"field": "label", "type": "nominal"}}}
     ]},
    {"data": {"values": [{"v": 0, "t": 0}]}, "mark": {"type": "point", "opacity": 0},
     "encoding": {"x": {"field": "v", "type": "quantitative", "scale": {"domain": [-8.6, 8.35], "nice": false, "zero": false}, "axis": {"orient": "top", "values": [-8,-7,-6,-5,-4,-3,-2,-1,0,1,2,3,4,5,6,7,8], "tickSize": -3, "labels": false, "title": null}},
       "y": {"field": "t", "type": "quantitative", "scale": {"domain": [0, 117], "nice": false, "zero": false}, "axis": {"orient": "right", "tickCount": 5, "tickSize": -2, "labels": false, "title": null, "minExtent": 4, "maxExtent": 4}}}}
   ]},
  {"width": 145, "height": 117, "view": {"stroke": "black"}, "resolve": {"axis": {"x": "independent", "y": "independent"}},
   "layer": [
    {"encoding": {"x": {"field": "v", "type": "quantitative", "scale": {"domain": [-8.6, 8.35], "nice": false, "zero": false}, "axis": {"values": [-8,-7,-6,-5,-4,-3,-2,-1,0,1,2,3,4,5,6,7,8], "tickSize": -3, "labels": false, "title": null}},
       "y": {"field": "t", "type": "quantitative", "scale": {"domain": [0, 117], "nice": false, "zero": false}, "axis": {"tickCount": 5, "tickSize": -2, "labels": false, "title": null, "minExtent": 12, "maxExtent": 12}}},
     "layer": [
      {"data": {"name": "c_pts"}, "mark": {"type": "line", "color": "black", "strokeWidth": 0.8, "point": {"filled": true, "size": 11, "color": "black"}}},
      {"data": {"name": "c_k"}, "mark": {"type": "line", "color": "black", "strokeWidth": 1, "interpolate": "monotone"}},
      {"data": {"name": "c_g"}, "mark": {"type": "line", "color": "#22dd22", "strokeWidth": 1, "interpolate": "monotone"}},
      {"data": {"name": "c_r"}, "mark": {"type": "line", "color": "#ff0000", "strokeWidth": 1, "interpolate": "monotone"}},
      {"data": {"name": "c_b"}, "mark": {"type": "line", "color": "#0000ff", "strokeWidth": 1, "interpolate": "monotone"}},
      {"data": {"values": [{"v": -7.9, "t": 38.5, "label": "c)"}]}, "mark": {"type": "text", "align": "left", "baseline": "middle", "fontSize": 14, "color": "black"}, "encoding": {"text": {"field": "label", "type": "nominal"}}}
     ]},
    {"data": {"values": [{"v": 0, "t": 0}]}, "mark": {"type": "point", "opacity": 0},
     "encoding": {"x": {"field": "v", "type": "quantitative", "scale": {"domain": [-8.6, 8.35], "nice": false, "zero": false}, "axis": {"orient": "top", "values": [-8,-7,-6,-5,-4,-3,-2,-1,0,1,2,3,4,5,6,7,8], "tickSize": -3, "labels": false, "title": null}},
       "y": {"field": "t", "type": "quantitative", "scale": {"domain": [0, 117], "nice": false, "zero": false}, "axis": {"orient": "right", "tickCount": 5, "tickSize": -2, "labels": false, "title": null, "minExtent": 4, "maxExtent": 4}}}}
   ]},
  {"width": 145, "height": 117, "view": {"stroke": "black"}, "resolve": {"axis": {"x": "independent", "y": "independent"}},
   "layer": [
    {"encoding": {"x": {"field": "v", "type": "quantitative", "scale": {"domain": [-8.6, 8.35], "nice": false, "zero": false}, "axis": {"values": [-8,-7,-6,-5,-4,-3,-2,-1,0,1,2,3,4,5,6,7,8], "tickSize": -3, "labels": false, "title": null}},
       "y": {"field": "t", "type": "quantitative", "scale": {"domain": [0, 117], "nice": false, "zero": false}, "axis": {"tickCount": 25, "tickSize": -2, "labels": false, "title": null, "minExtent": 12, "maxExtent": 12}}},
     "layer": [
      {"data": {"name": "d_pts"}, "mark": {"type": "line", "color": "black", "strokeWidth": 0.8, "point": {"filled": true, "size": 11, "color": "black"}}},
      {"data": {"name": "d_k"}, "mark": {"type": "line", "color": "black", "strokeWidth": 1, "interpolate": "monotone"}},
      {"data": {"name": "d_g"}, "mark": {"type": "line", "color": "#22dd22", "strokeWidth": 1, "interpolate": "monotone"}},
      {"data": {"name": "d_b"}, "mark": {"type": "line", "color": "#6b7fe6", "strokeWidth": 2.2, "interpolate": "monotone"}},
      {"data": {"name": "d_m"}, "mark": {"type": "line", "color": "#990099", "strokeWidth": 1, "interpolate": "monotone"}},
      {"data": {"values": [{"v": -7.9, "t": 27, "label": "d)"}]}, "mark": {"type": "text", "align": "left", "baseline": "middle", "fontSize": 14, "color": "black"}, "encoding": {"text": {"field": "label", "type": "nominal"}}}
     ]},
    {"data": {"values": [{"v": 0, "t": 0}]}, "mark": {"type": "point", "opacity": 0},
     "encoding": {"x": {"field": "v", "type": "quantitative", "scale": {"domain": [-8.6, 8.35], "nice": false, "zero": false}, "axis": {"orient": "top", "values": [-8,-7,-6,-5,-4,-3,-2,-1,0,1,2,3,4,5,6,7,8], "tickSize": -3, "labels": false, "title": null}},
       "y": {"field": "t", "type": "quantitative", "scale": {"domain": [0, 117], "nice": false, "zero": false}, "axis": {"orient": "right", "tickCount": 25, "tickSize": -2, "labels": false, "title": null, "minExtent": 4, "maxExtent": 4}}}}
   ]},
  {"width": 145, "height": 118, "view": {"stroke": "black"}, "resolve": {"axis": {"x": "independent", "y": "independent"}},
   "layer": [
    {"encoding": {"x": {"field": "v", "type": "quantitative", "scale": {"domain": [-8.6, 8.35], "nice": false, "zero": false}, "axis": {"values": [-8,-7,-6,-5,-4,-3,-2,-1,0,1,2,3,4,5,6,7,8], "tickSize": -3, "labels": false, "title": null}},
       "y": {"field": "t", "type": "quantitative", "scale": {"domain": [0, 118], "nice": false, "zero": false}, "axis": {"tickCount": 16, "tickSize": -2, "labels": false, "title": null, "minExtent": 12, "maxExtent": 12}}},
     "layer": [
      {"data": {"name": "e_pts"}, "mark": {"type": "line", "color": "black", "strokeWidth": 0.8, "point": {"filled": true, "size": 11, "color": "black"}}},
      {"data": {"name": "e_k"}, "mark": {"type": "line", "color": "black", "strokeWidth": 1, "interpolate": "monotone"}},
      {"data": {"name": "e_m"}, "mark": {"type": "line", "color": "#990099", "strokeWidth": 1, "interpolate": "monotone"}},
      {"data": {"name": "e_r"}, "mark": {"type": "line", "color": "#990000", "strokeWidth": 1, "interpolate": "monotone"}},
      {"data": {"values": [{"v": -7.9, "t": 51.3, "label": "e)"}]}, "mark": {"type": "text", "align": "left", "baseline": "middle", "fontSize": 14, "color": "black"}, "encoding": {"text": {"field": "label", "type": "nominal"}}}
     ]},
    {"data": {"values": [{"v": 0, "t": 0}]}, "mark": {"type": "point", "opacity": 0},
     "encoding": {"x": {"field": "v", "type": "quantitative", "scale": {"domain": [-8.6, 8.35], "nice": false, "zero": false}, "axis": {"orient": "top", "values": [-8,-7,-6,-5,-4,-3,-2,-1,0,1,2,3,4,5,6,7,8], "tickSize": -3, "labels": false, "title": null}},
       "y": {"field": "t", "type": "quantitative", "scale": {"domain": [0, 118], "nice": false, "zero": false}, "axis": {"orient": "right", "tickCount": 16, "tickSize": -2, "labels": false, "title": null, "minExtent": 4, "maxExtent": 4}}}}
   ]},
  {"width": 145, "height": 115, "view": {"stroke": "black"}, "resolve": {"axis": {"x": "independent", "y": "independent"}},
   "layer": [
    {"encoding": {"x": {"field": "v", "type": "quantitative", "scale": {"domain": [-8.6, 8.35], "nice": false, "zero": false}, "axis": {"values": [-8,-7,-6,-5,-4,-3,-2,-1,0,1,2,3,4,5,6,7,8], "tickSize": -3, "labelExpr": "datum.value % 2 == 0 ? (datum.value < 0 ? '-' + abs(datum.value) : '' + datum.value) : ''", "labelFontSize": 12, "labelPadding": 7, "title": "Velocity (mm/s)", "titleFontSize": 17, "titlePadding": 12}},
       "y": {"field": "t", "type": "quantitative", "scale": {"domain": [0, 115], "nice": false, "zero": false}, "axis": {"tickCount": 16, "tickSize": -2, "labels": false, "title": null, "minExtent": 12, "maxExtent": 12}}},
     "layer": [
      {"data": {"name": "f_pts"}, "mark": {"type": "line", "color": "black", "strokeWidth": 0.8, "point": {"filled": true, "size": 11, "color": "black"}}},
      {"data": {"name": "f_k"}, "mark": {"type": "line", "color": "black", "strokeWidth": 1, "interpolate": "monotone"}},
      {"data": {"name": "f_m"}, "mark": {"type": "line", "color": "#990099", "strokeWidth": 1, "interpolate": "monotone"}},
      {"data": {"name": "f_r"}, "mark": {"type": "line", "color": "#990000", "strokeWidth": 1, "interpolate": "monotone"}},
      {"data": {"values": [{"v": -7.9, "t": 27, "label": "f)"}]}, "mark": {"type": "text", "align": "left", "baseline": "middle", "fontSize": 14, "color": "black"}, "encoding": {"text": {"field": "label", "type": "nominal"}}}
     ]},
    {"data": {"values": [{"v": 0, "t": 0}]}, "mark": {"type": "point", "opacity": 0},
     "encoding": {"x": {"field": "v", "type": "quantitative", "scale": {"domain": [-8.6, 8.35], "nice": false, "zero": false}, "axis": {"orient": "top", "values": [-8,-7,-6,-5,-4,-3,-2,-1,0,1,2,3,4,5,6,7,8], "tickSize": -3, "labels": false, "title": null}},
       "y": {"field": "t", "type": "quantitative", "scale": {"domain": [0, 115], "nice": false, "zero": false}, "axis": {"orient": "right", "tickCount": 16, "tickSize": -2, "labels": false, "title": null, "minExtent": 4, "maxExtent": 4}}}}
   ]},
  {"width": 145, "height": 67, "data": {"values": []}, "mark": "point"}
 ]},
 {"spacing": 0, "bounds": "flush", "vconcat": [
  {"width": 85, "height": 34, "data": {"values": []}, "mark": "point"},
  {"width": 85, "height": 54, "view": {"stroke": "black"}, "resolve": {"axis": {"y": "independent"}}, "layer": [
   {"data": {"name": "ra"}, "mark": {"type": "line", "color": "#1010ff", "strokeWidth": 1.2, "interpolate": "monotone"},
    "encoding": {"x": {"field": "B", "type": "quantitative", "scale": {"domain": [0, 40], "nice": false}, "axis": {"values": [0,10,20,30,40], "tickSize": 3, "labelFontSize": 11, "labelPadding": 1, "title": "B(T)", "titleFontSize": 14, "titlePadding": 2}},
     "y": {"field": "y", "type": "quantitative", "scale": {"domain": [0, 1], "nice": false}, "axis": {"tickCount": 20, "tickSize": -2, "labels": false, "title": null, "minExtent": 9, "maxExtent": 9}}}},
   {"data": {"values": [{"y": 0}]}, "mark": {"type": "point", "opacity": 0}, "encoding": {"y": {"field": "y", "type": "quantitative", "scale": {"domain": [0, 1], "nice": false}, "axis": {"orient": "right", "ticks": false, "labels": false, "title": null, "minExtent": 10, "maxExtent": 10}}}}
  ]},
  {"width": 85, "height": 60, "data": {"values": []}, "mark": "point"},
  {"width": 85, "height": 54, "view": {"stroke": "black"}, "resolve": {"axis": {"y": "independent"}}, "layer": [
   {"data": {"name": "rb"}, "mark": {"type": "line", "color": "#1010ff", "strokeWidth": 1.2, "interpolate": "monotone"},
    "encoding": {"x": {"field": "B", "type": "quantitative", "scale": {"domain": [0, 40], "nice": false}, "axis": {"values": [0,10,20,30,40], "tickSize": 3, "labelFontSize": 11, "labelPadding": 1, "title": "B(T)", "titleFontSize": 14, "titlePadding": 2}},
     "y": {"field": "y", "type": "quantitative", "scale": {"domain": [0, 1], "nice": false}, "axis": {"tickCount": 20, "tickSize": -2, "labels": false, "title": null, "minExtent": 9, "maxExtent": 9}}}},
   {"data": {"values": [{"y": 0}]}, "mark": {"type": "point", "opacity": 0}, "encoding": {"y": {"field": "y", "type": "quantitative", "scale": {"domain": [0, 1], "nice": false}, "axis": {"orient": "right", "ticks": false, "labels": false, "title": null, "minExtent": 10, "maxExtent": 10}}}}
  ]},
  {"width": 85, "height": 64, "data": {"values": []}, "mark": "point"},
  {"width": 85, "height": 54, "view": {"stroke": "black"}, "resolve": {"axis": {"y": "independent"}}, "layer": [
   {"data": {"name": "rc"}, "mark": {"type": "line", "color": "#1010ff", "strokeWidth": 1.2, "interpolate": "monotone"},
    "encoding": {"x": {"field": "B", "type": "quantitative", "scale": {"domain": [0, 40], "nice": false}, "axis": {"values": [0,10,20,30,40], "tickSize": 3, "labelFontSize": 11, "labelPadding": 1, "title": "B(T)", "titleFontSize": 14, "titlePadding": 2}},
     "y": {"field": "y", "type": "quantitative", "scale": {"domain": [0, 1], "nice": false}, "axis": {"tickCount": 20, "tickSize": -2, "labels": false, "title": null, "minExtent": 9, "maxExtent": 9}}}},
   {"data": {"values": [{"y": 0}]}, "mark": {"type": "point", "opacity": 0}, "encoding": {"y": {"field": "y", "type": "quantitative", "scale": {"domain": [0, 1], "nice": false}, "axis": {"orient": "right", "ticks": false, "labels": false, "title": null, "minExtent": 10, "maxExtent": 10}}}}
  ]},
  {"width": 85, "height": 62, "data": {"values": []}, "mark": "point"},
  {"width": 85, "height": 54, "view": {"stroke": "black"}, "resolve": {"axis": {"y": "independent"}}, "layer": [
   {"data": {"name": "rd"}, "mark": {"type": "line", "color": "#1010ff", "strokeWidth": 1.2, "interpolate": "monotone"},
    "encoding": {"x": {"field": "B", "type": "quantitative", "scale": {"domain": [0, 40], "nice": false}, "axis": {"values": [0,10,20,30,40], "tickSize": 3, "labelFontSize": 11, "labelPadding": 1, "title": "B(T)", "titleFontSize": 14, "titlePadding": 2}},
     "y": {"field": "y", "type": "quantitative", "scale": {"domain": [0, 1], "nice": false}, "axis": {"tickCount": 20, "tickSize": -2, "labels": false, "title": null, "minExtent": 9, "maxExtent": 9}}}},
   {"data": {"values": [{"y": 0}]}, "mark": {"type": "point", "opacity": 0}, "encoding": {"y": {"field": "y", "type": "quantitative", "scale": {"domain": [0, 1], "nice": false}, "axis": {"orient": "right", "ticks": false, "labels": false, "title": null, "minExtent": 10, "maxExtent": 10}}}}
  ]},
  {"width": 85, "height": 60, "data": {"values": []}, "mark": "point"},
  {"width": 85, "height": 54, "view": {"stroke": "black"}, "resolve": {"axis": {"y": "independent"}}, "layer": [
   {"data": {"name": "re"}, "mark": {"type": "line", "color": "#1010ff", "strokeWidth": 1.2, "interpolate": "monotone"},
    "encoding": {"x": {"field": "B", "type": "quantitative", "scale": {"domain": [0, 40], "nice": false}, "axis": {"values": [0,10,20,30,40], "tickSize": 3, "labelFontSize": 11, "labelPadding": 1, "title": "B(T)", "titleFontSize": 14, "titlePadding": 2}},
     "y": {"field": "y", "type": "quantitative", "scale": {"domain": [0, 1], "nice": false}, "axis": {"tickCount": 20, "tickSize": -2, "labels": false, "title": null, "minExtent": 9, "maxExtent": 9}}}},
   {"data": {"values": [{"y": 0}]}, "mark": {"type": "point", "opacity": 0}, "encoding": {"y": {"field": "y", "type": "quantitative", "scale": {"domain": [0, 1], "nice": false}, "axis": {"orient": "right", "ticks": false, "labels": false, "title": null, "minExtent": 10, "maxExtent": 10}}}}
  ]},
  {"width": 85, "height": 71, "data": {"values": []}, "mark": "point"},
  {"width": 85, "height": 54, "view": {"stroke": "black"}, "resolve": {"axis": {"y": "independent"}}, "layer": [
   {"data": {"name": "rf"}, "mark": {"type": "line", "color": "#1010ff", "strokeWidth": 1.2, "interpolate": "monotone"},
    "encoding": {"x": {"field": "B", "type": "quantitative", "scale": {"domain": [0, 40], "nice": false}, "axis": {"values": [0,10,20,30,40], "tickSize": 3, "labelFontSize": 11, "labelPadding": 1, "title": "B(T)", "titleFontSize": 14, "titlePadding": 2}},
     "y": {"field": "y", "type": "quantitative", "scale": {"domain": [0, 1], "nice": false}, "axis": {"tickCount": 20, "tickSize": -2, "labels": false, "title": null, "minExtent": 9, "maxExtent": 9}}}},
   {"data": {"values": [{"y": 0}]}, "mark": {"type": "point", "opacity": 0}, "encoding": {"y": {"field": "y", "type": "quantitative", "scale": {"domain": [0, 1], "nice": false}, "axis": {"orient": "right", "ticks": false, "labels": false, "title": null, "minExtent": 10, "maxExtent": 10}}}}
  ]},
  {"width": 85, "height": 89, "data": {"values": []}, "mark": "point"}
 ]},
 {"width": 4, "height": 10, "data": {"values": []}, "mark": "point"},
 {"width": 4, "height": 764, "data": {"values": []}, "mark": "point", "view": {"fill": "#2a5fd5", "stroke": null}}
]},
{"width": 324, "height": 4, "data": {"values": []}, "mark": "point", "view": {"fill": "#2a5fd5", "stroke": null}}
]
}
